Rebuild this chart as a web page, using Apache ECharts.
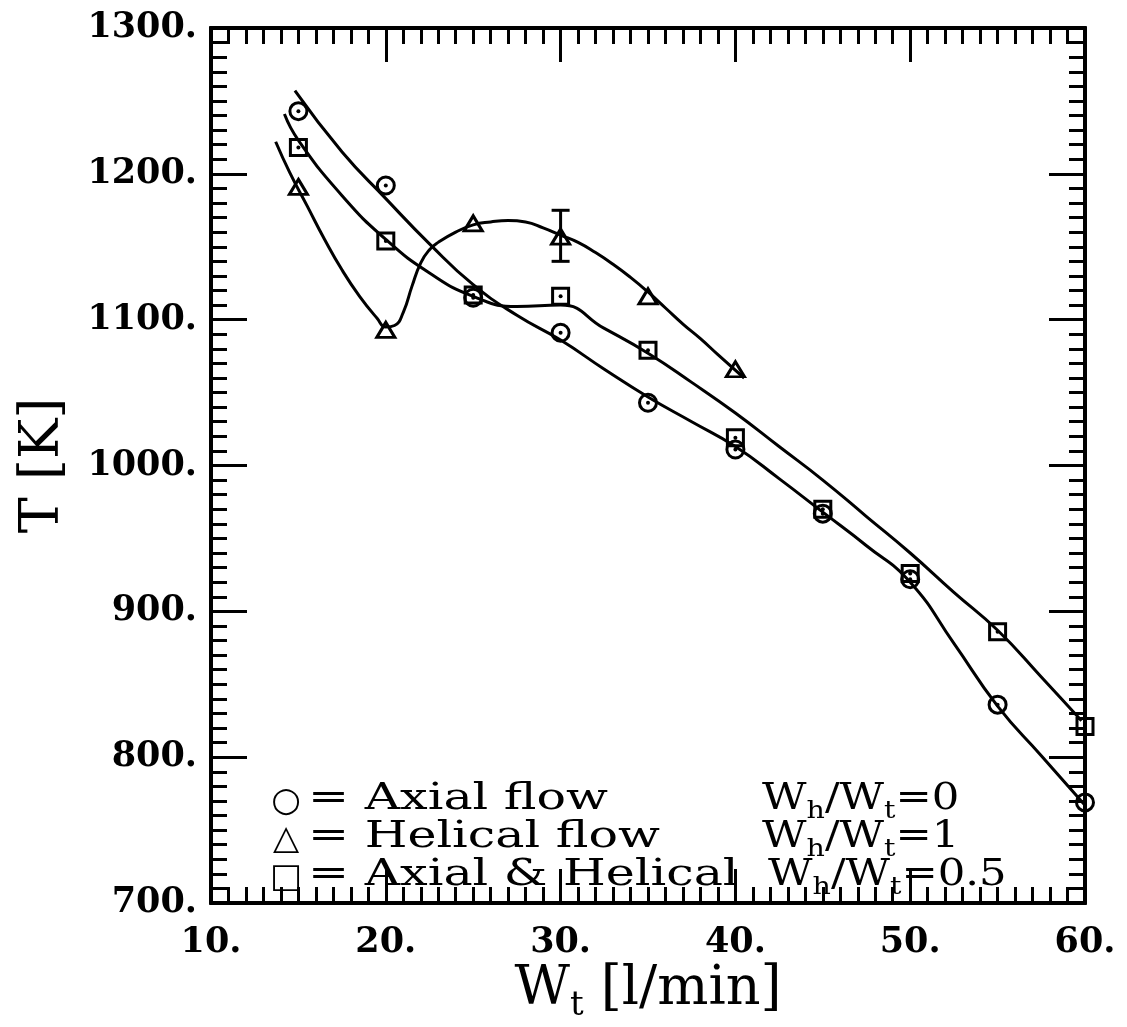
<!DOCTYPE html>
<html>
<head>
<meta charset="utf-8">
<script src="https://cdn.jsdelivr.net/npm/echarts@6/dist/echarts.min.js"></script>
<style>
html,body{margin:0;padding:0;background:#fff;}
#main{width:1127px;height:1027px;}
</style>
</head>
<body>
<div id="main"></div>
<script>
// measured points
var flowRates=[15,20,25,30,35,40,45,50,55,60];
var axialT=[1243,1192,1115,1091,1043,1011,967,922,836,769];
var mixedT=[1218,1154,1117,1116,1079,1019,970,926,886,821];
var helicalRates=[15,20,25,30,35,40];
var helicalT=[1191,1093,1166,1157,1116,1066];
var errorBar=[[30,1140,1175]]; // x, low, high

// fitted curves
var axialFitX=[14.8,17.5,20,22.5,25,27.5,30,32.5,35,37.5,40,42.5,45,47.5,50,52.5,55,57.5,60];
var axialFitT=[1257,1215,1183,1152,1124,1103,1086,1066,1047,1030,1013,991,968,945,920,878,835,801,767];
var mixedFitX=[14.2,15,17.5,20,22.5,25,27.5,30,32.5,35,37.5,40,42.5,45,47.5,50,52.5,55,57.5,59.8];
var mixedFitT=[1241,1223,1185,1155,1132,1116,1109,1110,1094,1077,1057,1036,1013,990,965,940,913,887,855,825];
var helicalFitX=[13.7,14.5,15.5,16.5,17.5,18.5,19.5,20,20.5,21,21.5,22,22.5,23,24,25,26,27,28,29,30,31,32,33,34,35,36,37,38,39,40.5];
var helicalFitT=[1222,1201,1178,1155,1134,1116,1101,1095,1096,1105,1123,1139,1148,1153,1160,1165,1167,1168,1167,1163,1158,1153,1146,1138,1129,1119,1108,1097,1087,1076,1060];

var legendRows=[
	{sym:'○', left:'= Axial flow', ratio:'0', ry:780, rx:762},
	{sym:'△', left:'= Helical flow', ratio:'1', ry:818, rx:762},
	{sym:'□', left:'= Axial & Helical', ratio:'0.5', ry:856, rx:768}
];

function pairs(xs, ys){
	var out=[];
	for(var i=0;i<xs.length;i++){ out.push([xs[i], ys[i]]); }
	return out;
}

var serif='DejaVu Serif';
var chart=echarts.init(document.getElementById('main'));

var lineStyle={color:'#000', width:3};
var markStyle={color:'rgba(0,0,0,0)', borderColor:'#000', borderWidth:3, opacity:1};

function fitSeries(xs, ys){
	return {type:'line', data:pairs(xs, ys), smooth:0.5, showSymbol:false,
		lineStyle:lineStyle, z:2, silent:true};
}

// one axis; minor ticks are drawn by extra axes so they point inward too
function makeAxis(pos, min, max, step, tickLen, labels){
	return {
		type:'value', position:pos, min:min, max:max, interval:step,
		axisLine:{show:true, onZero:false, lineStyle:{color:'#000', width:4}},
		axisTick:{show:true, inside:true, length:tickLen, lineStyle:{color:'#000', width:3}},
		splitLine:{show:false},
		axisLabel:{show:labels, color:'#000', fontFamily:serif, fontWeight:'bold', fontSize:35,
			formatter:function(v){ return v+'.'; }}
	};
}

var xBottom=makeAxis('bottom', 10, 60, 10, 34, true);
xBottom.axisLabel.margin=22;
xBottom.name='{w|W}{t|t}{w| [l/min]}';
xBottom.nameLocation='middle';
xBottom.nameGap=60;
xBottom.nameMoveOverlap=false;
xBottom.nameTextStyle={rich:{
	w:{fontFamily:serif, fontSize:54, color:'#000', lineHeight:60, verticalAlign:'top'},
	t:{fontFamily:serif, fontSize:34, color:'#000', lineHeight:34, padding:[36,0,0,0], verticalAlign:'bottom'}
}};

var yLeft=makeAxis('left', 700, 1300, 100, 36, true);
yLeft.axisLabel.margin=14;
yLeft.name='T [K]';
yLeft.nameLocation='middle';
yLeft.nameGap=140;
yLeft.nameMoveOverlap=false;
yLeft.nameTextStyle={fontFamily:serif, fontSize:54, color:'#000'};

var subRich={
	n:{fontFamily:serif, fontSize:38, color:'#000', lineHeight:44, verticalAlign:'top'},
	b:{fontFamily:serif, fontSize:25, color:'#000', lineHeight:25, padding:[27,0,0,0], verticalAlign:'bottom'}
};

var graphics=[];
legendRows.forEach(function(r){
	graphics.push({type:'text', x:286, y:r.ry+22, z:10,
		style:{text:r.sym, fontFamily:'DejaVu Sans', fontSize:34, fill:'#000', align:'center', verticalAlign:'middle'}});
	graphics.push({type:'text', x:308, y:r.ry, z:10, scaleX:1.29,
		style:{text:'{n|'+r.left+'}', rich:subRich, fill:'#000', verticalAlign:'top'}});
	graphics.push({type:'text', x:r.rx, y:r.ry, z:10, scaleX:1.14,
		style:{text:'{n|W}{b|h}{n|/W}{b|t}{n|='+r.ratio+'}', rich:subRich, fill:'#000', verticalAlign:'top'}});
});

var option={
	animation:false,
	backgroundColor:'#fff',
	grid:{left:211, right:42, top:28, bottom:124, outerBoundsMode:'none'},
	xAxis:[xBottom, makeAxis('top', 10, 60, 10, 34, false),
		makeAxis('bottom', 10, 60, 1, 16, false), makeAxis('top', 10, 60, 1, 16, false)],
	yAxis:[yLeft, makeAxis('right', 700, 1300, 100, 36, false),
		makeAxis('left', 700, 1300, 10, 16, false), makeAxis('right', 700, 1300, 10, 16, false)],
	graphic:graphics,
	series:[
		fitSeries(axialFitX, axialFitT),
		fitSeries(mixedFitX, mixedFitT),
		fitSeries(helicalFitX, helicalFitT),
		{type:'scatter', data:pairs(flowRates, axialT), symbol:'circle', symbolSize:17, itemStyle:markStyle, z:3},
		{type:'scatter', data:pairs(flowRates, mixedT), symbol:'rect', symbolSize:16, itemStyle:markStyle, z:3},
		{type:'scatter', data:pairs(helicalRates, helicalT), symbol:'triangle', symbolSize:[18,15], itemStyle:markStyle, z:3},
		{type:'scatter', data:pairs(flowRates, axialT).concat(pairs(flowRates, mixedT)), symbol:'circle', symbolSize:4,
			itemStyle:{color:'#000', opacity:1}, z:4},
		{type:'custom', data:errorBar, z:3,
			renderItem:function(params, api){
				var x=api.value(0);
				var lo=api.coord([x, api.value(1)]);
				var hi=api.coord([x, api.value(2)]);
				var st={stroke:'#000', lineWidth:3};
				return {type:'group', children:[
					{type:'line', shape:{x1:lo[0], y1:lo[1], x2:hi[0], y2:hi[1]}, style:st},
					{type:'line', shape:{x1:hi[0]-9, y1:hi[1], x2:hi[0]+9, y2:hi[1]}, style:st},
					{type:'line', shape:{x1:lo[0]-9, y1:lo[1], x2:lo[0]+9, y2:lo[1]}, style:st}
				]};
			}
		}
	]
};
chart.setOption(option);
</script>
</body>
</html>
